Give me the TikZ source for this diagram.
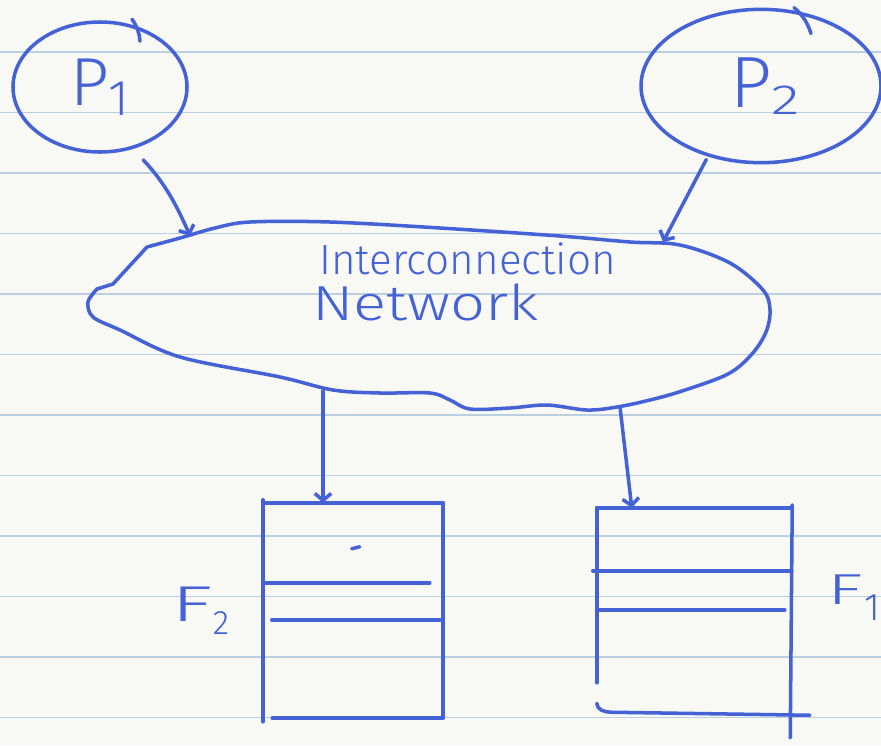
\documentclass[tikz,border=0pt]{standalone}
\usepackage{fontspec}
\newfontfamily\hand{Fira Sans Light}
\usetikzlibrary{arrows.meta, positioning, shapes.geometric}

\definecolor{ink}{RGB}{68,98,214}
\definecolor{ruling}{RGB}{186,207,224}
\definecolor{paper}{RGB}{248,248,244}

% lowered index digit: size, shift, digit
\newcommand{\lowidx}[3]{\raisebox{-#2}{\fontsize{#1}{#1}\selectfont #3}}
% wide hand letter
\newcommand{\wide}[2]{\scalebox{#1}[1]{#2}}

\tikzset{
  pen/.style={draw=ink, line width=3pt, line cap=round, line join=round},
  proc/.style={pen, ellipse, inner sep=0pt, text=ink},
  hook/.style={pen, -{Straight Barb[length=6pt, width=14pt]}},
  fifo/.style={inner sep=0pt, minimum width=#1},
  tag/.style={text=ink, inner sep=0pt, font=\hand}
}

\begin{document}
\begin{tikzpicture}[x=0.03cm, y=-0.03cm]
  \useasboundingbox (0,0) rectangle (881,745);
  \fill[paper] (0,0) rectangle (881,745);
  % ruled paper
  \foreach \k in {0,...,11}
    \draw[ruling, line width=1.4pt] (0,{52+60.5*\k}) -- (881,{52+60.5*\k});

  % processors
  \node[proc, minimum width=5.22cm, minimum height=3.9cm] (p1) at (100,87)
    {\hand\fontsize{58}{60}\selectfont P\lowidx{43}{9pt}{1}};
  \node[proc, minimum width=7.2cm, minimum height=4.6cm] (p2) at (761,86)
    {\hand\fontsize{62}{64}\selectfont\hspace{0.25cm}P\lowidx{36}{6pt}{\wide{1.4}{2}}};
  \draw[pen] (p1.north) ++(32,-1) to[bend left=15] ++(8,22);
  \draw[pen] (p2.north) ++(33,0) to[bend left=15] ++(17,26);

  % interconnection network
  \draw[pen] plot[smooth, tension=0.55] coordinates {
    (147,247) (180,238) (215,228) (250,222) (330,222) (440,228) (560,236)
    (630,242) (680,245) (730,263) (763,290) (770,310) (766,332) (752,354)
    (728,374) (682,391) (650,400) (617,407) (587,410) (547,405) (510,408)
    (470,409) (450,400) (430,393) (380,393) (333,390) (280,377) (180,357)
    (120,330) (93,317) (88,302) (97,289)}
    -- (113,284) -- (147,247);
  \coordinate (net-a) at (190,236);
  \coordinate (net-b) at (663,242);
  \coordinate (net-c) at (323,391);
  \coordinate (net-d) at (620,407);
  \node[tag, anchor=base west, font=\hand\fontsize{36}{38}\selectfont]
    (net) at (319,274) {Interconnection};
  \node[tag, anchor=base west, font=\hand\fontsize{42}{44}\selectfont]
    (net-2) at (312,320) {\wide{1.25}{Network}};

  % queues
  \node[fifo=5.4cm, minimum height=6.45cm] (f2) at (353,610.5) {};
  \node[fifo=5.85cm, minimum height=6.18cm] (f1) at (694.5,611) {};
  \node[tag, left=1cm of f2, font=\hand\fontsize{43}{44}\selectfont] (f2-lbl)
    {\wide{1.7}{F}\lowidx{29}{11pt}{2}};
  \node[tag, right=1.05cm of f1, yshift=0.4cm, font=\hand\fontsize{37}{38}\selectfont] (f1-lbl)
    {\wide{1.7}{F}\hspace{0.05cm}\lowidx{33}{14pt}{1}};

  \draw[pen] (f2.north west) ++(0,-3) -- ++(0,222);
  \draw[pen] (f2.north west) -- (f2.north east) -- (f2.south east) -- ++(-171,0);
  \draw[pen] (f2.north west) ++(2,80) -- ++(165,0);
  \draw[pen] (f2.north west) ++(9,117) -- ++(168,0);
  \draw[pen] (f2.north west) ++(89,46) -- ++(8,-2);

  \draw[pen] (f1.north west) -- (f1.north east);
  \draw[pen] (f1.north west) -- ++(0,175);
  \draw[pen] (f1.north east) ++(0,-3) -- ++(-2,233);
  \draw[pen] (f1.south west) ++(0,-11) to[out=-90, in=180] ++(15,9) -- ++(198,3);
  \draw[pen] (f1.north west) ++(-4,63) -- ++(199,0);
  \draw[pen] (f1.north west) ++(3,102) -- ++(185,0);

  % connections
  \draw[hook, shorten <=0.45cm] (p1.-62) to[bend left=10] (net-a);
  \draw[hook, shorten <=0.1cm] (p2.-127) -- (net-b);
  \draw[hook] (net-c) -- (net-c |- f2.north);
  \draw[hook] (net-d) -- ([xshift=1.05cm]f1.north west);
\end{tikzpicture}
\end{document}
